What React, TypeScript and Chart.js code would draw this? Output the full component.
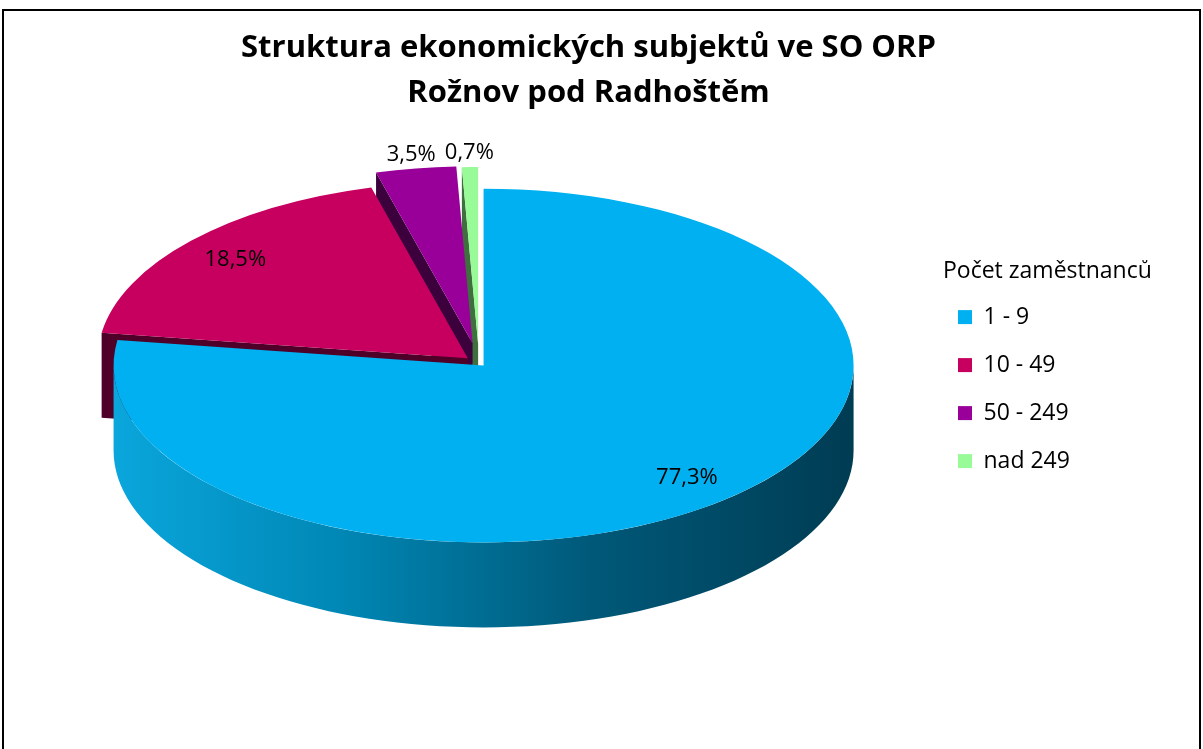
import { useEffect, useRef } from 'react';
import { Chart, registerables } from 'chart.js';

Chart.register(...registerables);

// ---- data ----
const CHART_TITLE = ['Struktura ekonomických subjektů ve SO ORP', 'Rožnov pod Radhoštěm'];
const LEGEND_TITLE = 'Počet zaměstnanců';
const CATEGORIES = ['1 - 9', '10 - 49', '50 - 249', 'nad 249'];
const SHARES = [77.3, 18.5, 3.5, 0.7];

// ---- styles ----
const TOP_COLORS = ['#00B0F0', '#C70060', '#990099', '#98FB98'];
const CUT_COLORS = ['#005a7a', '#4e0028', '#3c003c', '#3f6e3f'];
const WALL_COLORS = ['', '#5a002f', '#4a004a', '#4f8a4f'];
const EXPLODE = [7, 15, 42, 40];
const PIE_CENTER = { x: 479, y: 363 };
const PIE_RADIUS = 370;
const SQUASH = 0.478;
const DEPTH = 85;
const LEGEND_POS = { x: 943, y: 260 };
const FONT = '"Open Sans"';

const fmt = (v: number) => v.toFixed(1).replace('.', ',') + '%';

const pie3d = {
  id: 'pie3d',
  beforeDraw(chart: any) {
    const ctx = chart.ctx;
    ctx.save();
    ctx.fillStyle = '#000';
    ctx.fillRect(2, 9, 1199, 2);
    ctx.fillRect(2, 9, 2, chart.height);
    ctx.fillRect(1199, 9, 2, chart.height);
    ctx.restore();
  },
  afterLayout(chart: any) {
    const lg = chart.legend;
    if (!lg) return;
    lg.left = LEGEND_POS.x;
    lg.right = chart.width;
    lg.width = chart.width - LEGEND_POS.x;
    lg.top = LEGEND_POS.y;
    lg.bottom = chart.height;
    lg.height = chart.height - LEGEND_POS.y;
  },
  beforeDatasetsDraw(chart: any) {
    const ctx = chart.ctx;
    const meta = chart.getDatasetMeta(0);
    const arcs = meta.data as any[];
    if (!arcs.length) return false;
    const cx0 = arcs[0].x;
    const cy0 = arcs[0].y;
    const map = (lx: number, ly: number) => [PIE_CENTER.x + (lx - cx0), PIE_CENTER.y + (ly - cy0) * SQUASH];
    const info = arcs.map((a: any, i: number) => {
      const s = a.startAngle, e = a.endAngle;
      const m = (s + e) / 2;
      return { s, e, m, R: a.outerRadius, ox: a.x + Math.cos(m) * EXPLODE[i], oy: a.y + Math.sin(m) * EXPLODE[i] };
    });
    const order = info.map((_: any, i: number) => i).sort((i: number, j: number) => Math.sin(info[i].m) - Math.sin(info[j].m));

    ctx.save();
    for (const i of order) {
      const { s, e, R, ox, oy } = info[i];
      const pt = (ang: number, r: number) => map(ox + Math.cos(ang) * r, oy + Math.sin(ang) * r);
      const c = map(ox, oy);
      const face = (ang: number) => {
        const p = pt(ang, R);
        ctx.beginPath();
        ctx.moveTo(c[0], c[1]);
        ctx.lineTo(p[0], p[1]);
        ctx.lineTo(p[0], p[1] + DEPTH);
        ctx.lineTo(c[0], c[1] + DEPTH);
        ctx.closePath();
        ctx.fillStyle = CUT_COLORS[i];
        ctx.fill();
      };
      if (Math.cos(s) < -1e-6) face(s);
      if (Math.cos(e) > 1e-6) face(e);
      const w0 = Math.max(s, 0), w1 = Math.min(e, Math.PI);
      if (w1 > w0) {
        const steps = 80;
        ctx.beginPath();
        for (let k = 0; k <= steps; k++) {
          const p = pt(w0 + (w1 - w0) * k / steps, R);
          if (k === 0) ctx.moveTo(p[0], p[1]); else ctx.lineTo(p[0], p[1]);
        }
        for (let k = steps; k >= 0; k--) {
          const p = pt(w0 + (w1 - w0) * k / steps, R);
          ctx.lineTo(p[0], p[1] + DEPTH);
        }
        ctx.closePath();
        if (i === 0) {
          const g = ctx.createLinearGradient(c[0] - R, 0, c[0] + R, 0);
          g.addColorStop(0, '#0aa6dc');
          g.addColorStop(0.3, '#0088b6');
          g.addColorStop(0.65, '#005878');
          g.addColorStop(1, '#003c53');
          ctx.fillStyle = g;
        } else {
          ctx.fillStyle = WALL_COLORS[i];
        }
        ctx.fill();
      }
    }
    // top faces drawn by the arc elements themselves
    arcs.forEach((a: any, i: number) => {
      ctx.save();
      ctx.translate(PIE_CENTER.x, PIE_CENTER.y);
      ctx.scale(1, SQUASH);
      ctx.translate(-cx0 + (info[i].ox - a.x), -cy0 + (info[i].oy - a.y));
      a.draw(ctx);
      ctx.restore();
    });
    ctx.restore();

    // value labels
    ctx.save();
    ctx.font = `22px ${FONT}`;
    ctx.fillStyle = '#000';
    ctx.textAlign = 'center';
    ctx.textBaseline = 'middle';
    const vals = chart.data.datasets[0].data as number[];
    info.forEach((inf: any, i: number) => {
      const r = vals[i] >= 10 ? 0.84 * inf.R : 1.08 * inf.R;
      const p = map(inf.ox + Math.cos(inf.m) * r, inf.oy + Math.sin(inf.m) * r);
      ctx.fillText(fmt(vals[i]), p[0], p[1]);
    });
    ctx.restore();
    return false;
  },
};

export default function App() {
  const ref = useRef<HTMLCanvasElement>(null);
  useEffect(() => {
    document.body.style.margin = '0';
    document.body.style.overflow = 'hidden';
    const chart = new Chart(ref.current as HTMLCanvasElement, {
      type: 'pie',
      data: {
        labels: CATEGORIES,
        datasets: [
          {
            data: SHARES,
            backgroundColor: TOP_COLORS,
            borderWidth: 0,
            radius: PIE_RADIUS,
            clip: false,
          } as any,
        ],
      },
      options: {
        responsive: false,
        animation: false,
        events: [],
        layout: { padding: { right: 26 } },
        plugins: {
          tooltip: { enabled: false },
          title: {
            display: true,
            text: CHART_TITLE,
            color: '#000',
            font: { family: FONT, size: 31, weight: 'bold', lineHeight: 45 / 31 },
            padding: { top: 26, bottom: 10 },
          },
          legend: {
            display: true,
            position: 'right',
            align: 'start',
            title: {
              display: true,
              text: LEGEND_TITLE,
              position: 'start',
              color: '#000',
              font: { family: FONT, size: 23, lineHeight: 1.2 },
              padding: { top: 0, bottom: 3 },
            },
            labels: {
              boxWidth: 14,
              boxHeight: 14,
              padding: 15,
              color: '#000',
              font: { family: FONT, size: 23, lineHeight: 33 / 23 },
              generateLabels: () =>
                CATEGORIES.map((c, i) => ({
                  text: [c] as any,
                  fillStyle: TOP_COLORS[i],
                  strokeStyle: TOP_COLORS[i],
                  lineWidth: 0,
                  hidden: false,
                  index: i,
                  datasetIndex: 0,
                })),
            },
          },
        },
      } as any,
      plugins: [pie3d as any],
    });
    return () => chart.destroy();
  }, []);
  return (
    <div style={{ width: 1203, height: 749 }}>
      <canvas ref={ref} width={1203} height={749} style={{ display: 'block' }} />
    </div>
  );
}
